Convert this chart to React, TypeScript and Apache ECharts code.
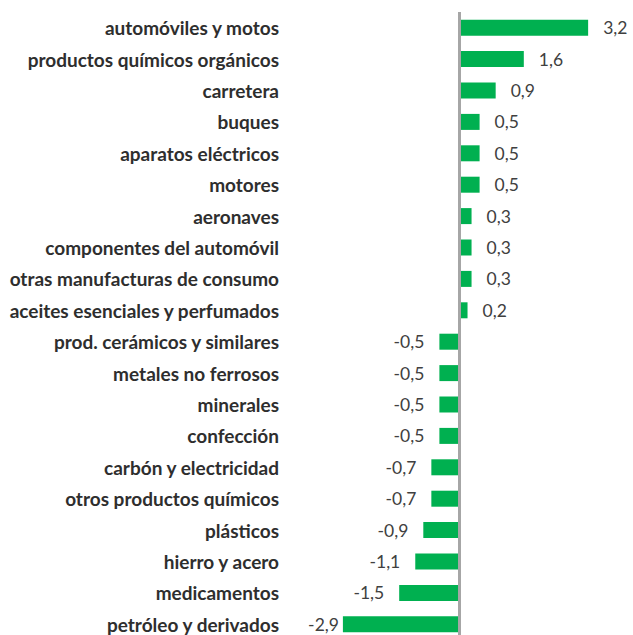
import React, { useEffect, useRef } from "react";
import * as echarts from "echarts";

const categories = [
  "automóviles y motos",
  "productos químicos orgánicos",
  "carretera",
  "buques",
  "aparatos eléctricos",
  "motores",
  "aeronaves",
  "componentes del automóvil",
  "otras manufacturas de consumo",
  "aceites esenciales y perfumados",
  "prod. cerámicos y similares",
  "metales no ferrosos",
  "minerales",
  "confección",
  "carbón y electricidad",
  "otros productos químicos",
  "plásticos",
  "hierro y acero",
  "medicamentos",
  "petróleo y derivados",
];

const values = [
  3.2, 1.6, 0.9, 0.5, 0.5, 0.5, 0.3, 0.3, 0.3, 0.2,
  -0.5, -0.5, -0.5, -0.5, -0.7, -0.7, -0.9, -1.1, -1.5, -2.9,
];

const fmt = (v: number) => v.toFixed(1).replace(".", ",");

export default function App() {
  const ref = useRef<HTMLDivElement>(null);
  useEffect(() => {
    if (!ref.current) return;
    const chart = echarts.init(ref.current, null, { renderer: "svg" });
    chart.setOption({
      animation: false,
      grid: { left: 290, right: 0, top: 12, bottom: 1, containLabel: false },
      xAxis: {
        type: "value",
        min: -4.216,
        max: 4.316,
        show: false,
      },
      yAxis: {
        type: "category",
        data: categories,
        inverse: true,
        axisLine: { show: false },
        axisTick: { show: false },
        axisLabel: {
          margin: 11,
          fontFamily: "Lato",
          fontWeight: "bold",
          fontSize: 19,
          color: "#2e2e2e",
        },
      },
      series: [
        {
          type: "bar",
          barWidth: 16,
          data: values.map((v) => ({
            value: v,
            label: {
              show: true,
              position: v >= 0 ? "right" : "left",
              distance: v < -2 ? 4 : 15,
              formatter: () => fmt(v),
            },
          })),
          itemStyle: { color: "#00B050" },
          label: {
            fontFamily: "Lato",
            fontSize: 17.5,
            color: "#404040",
          },
          markLine: {
            silent: true,
            symbol: "none",
            label: { show: false },
            lineStyle: { color: "#A6A6A6", width: 3, type: "solid" },
            data: [{ xAxis: 0 }],
          },
        },
      ],
    });
    return () => chart.dispose();
  }, []);
  return (
    <div
      style={{
        position: "fixed",
        top: 0,
        left: 0,
        width: 633,
        height: 635,
        overflow: "hidden",
        background: "#ffffff",
      }}
    >
      <div ref={ref} style={{ width: 633, height: 641 }} />
    </div>
  );
}
